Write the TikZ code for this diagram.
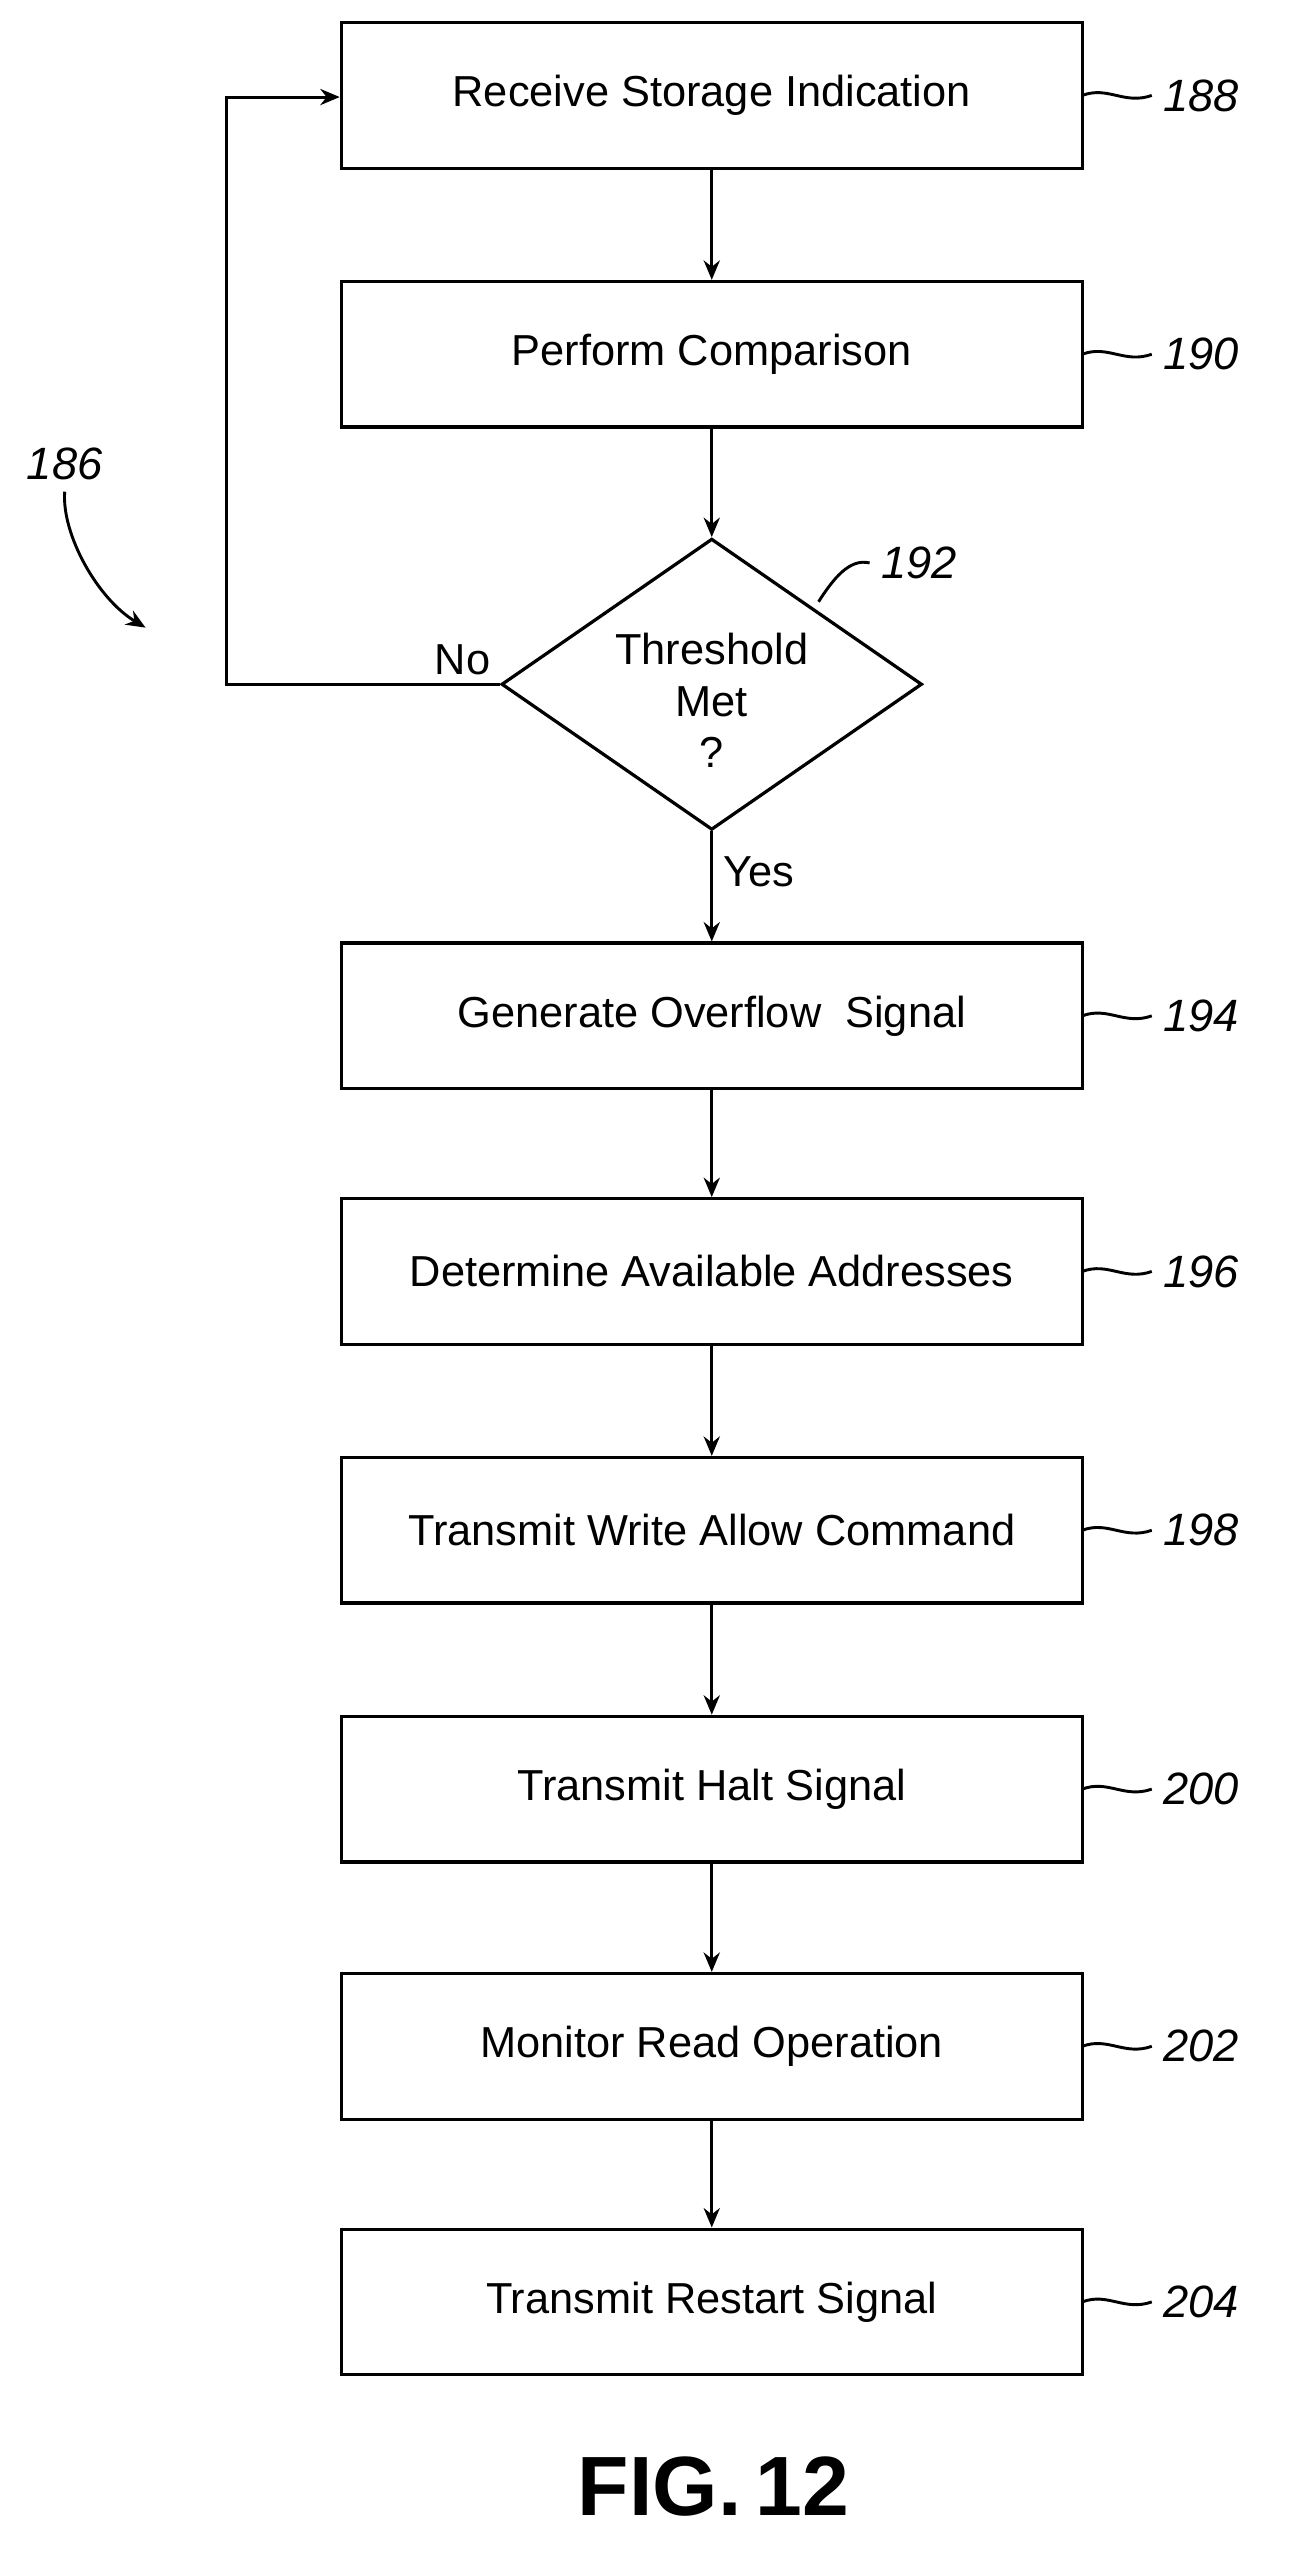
\documentclass[tikz,border=0pt]{standalone}
\usepackage{fontspec}
\setmainfont{Liberation Sans}
\usetikzlibrary{arrows.meta,shapes.geometric}
\begin{document}
\begin{tikzpicture}[x=0.5pt,y=-0.5pt,
  box/.style={draw,line width=1pt,minimum width=229pt,minimum height=45pt,inner sep=0pt,font=\fontsize{13.4}{16}\selectfont},
  arr/.style={line width=0.9pt,-{Stealth[length=6pt,width=5pt]}},
  lbl/.style={font=\fontsize{14}{16}\selectfont\itshape},
  tick/.style={line width=0.9pt}]
\useasboundingbox (0,0) rectangle (800,1577);
\node[box] (b188) at (440,59) {Receive Storage Indication};
\node[box] (b190) at (440,219) {Perform Comparison};
\node[draw,line width=1pt,diamond,minimum width=130pt,minimum height=90pt,inner sep=0pt,aspect=1.44] (d192) at (440,423) {};
\node[font=\fontsize{13.4}{16}\selectfont,align=center] (t192) at (440,433) {Threshold\\Met\\?};
\node[box] (b194) at (440,628) {Generate Overflow\ \ Signal};
\node[box] (b196) at (440,786) {Determine Available Addresses};
\node[box] (b198) at (440,946) {Transmit Write Allow Command};
\node[box] (b200) at (440,1106) {Transmit Halt Signal};
\node[box] (b202) at (440,1265) {Monitor Read Operation};
\node[box] (b204) at (440,1423) {Transmit Restart Signal};
\draw[arr] (b188) -- (b190);
\draw[arr] (b190) -- (d192.north);
\draw[arr] (d192.south) -- (b194);
\draw[arr] (b194) -- (b196);
\draw[arr] (b196) -- (b198);
\draw[arr] (b198) -- (b200);
\draw[arr] (b200) -- (b202);
\draw[arr] (b202) -- (b204);
\coordinate (c1) at (140,423);
\coordinate (c2) at (140,60);
\draw[arr] (d192.west) -- (c1) -- (c2) -- (b188.west |- c2);
\node[font=\fontsize{13.4}{16}\selectfont] (no) at (286,408) {No};
\node[font=\fontsize{13.4}{16}\selectfont] (yes) at (469,539) {Yes};
\foreach \n/\y in {188/59,190/219,194/628,196/786,198/946,200/1106,202/1265,204/1423}{
  \node[lbl,anchor=west] (r\n) at (712,\y) {\n};
  \draw[tick] (669,\y) .. controls (685,\y-6) and (695,\y+6) .. (r\n.west);
}
\node[lbl] (r192) at (568,348) {192};
\draw[tick] (506,372) .. controls (515,358) and (525,345) .. (r192.west);
\node[lbl] (r186) at (40,287) {186};
\coordinate (e186) at (90,388);
\draw[tick,-{Stealth[length=6pt,width=5pt]}] (r186.south) .. controls (38,330) and (60,370) .. (e186);
\node[font=\fontsize{26}{30}\selectfont\bfseries] (fig) at (441,1537) {FIG.\,12};
\end{tikzpicture}
\end{document}
